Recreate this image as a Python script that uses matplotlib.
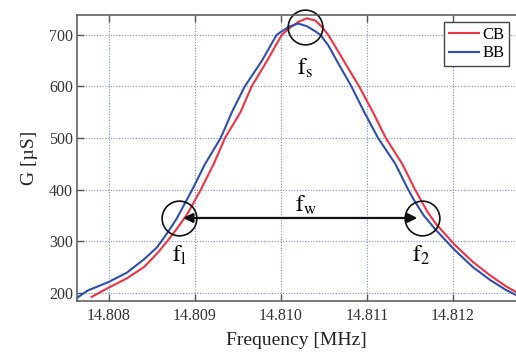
import matplotlib
matplotlib.use("Agg")
import matplotlib.pyplot as plt
from matplotlib.ticker import FormatStrFormatter

plt.rcParams['font.family'] = ['Liberation Serif', 'DejaVu Serif']
plt.rcParams['mathtext.fontset'] = 'stix'

# values (frequency in MHz, G in uS)
bb_freq = [14.80763, 14.80775, 14.80800, 14.80821, 14.80841, 14.80856, 14.80868,
           14.80879, 14.80897, 14.80912, 14.80930, 14.80943, 14.80958, 14.80978,
           14.80995, 14.81002, 14.81010, 14.81020, 14.81030, 14.81040, 14.81046,
           14.81055, 14.81065, 14.81082, 14.81097, 14.81113, 14.81133, 14.81148,
           14.81155, 14.81166, 14.81180, 14.81202, 14.81223, 14.81243, 14.81262,
           14.81273]
bb_g = [190, 204, 221, 239, 265, 288, 316,
        344, 400, 450, 500, 550, 600, 650,
        700, 708, 716, 722, 717, 707, 700,
        680, 650, 600, 550, 500, 450, 400,
        379, 350, 322, 283, 250, 225, 205,
        196]

cb_freq = [14.80780, 14.80800, 14.80821, 14.80841, 14.80856, 14.80868, 14.80879,
           14.80891, 14.80907, 14.80922, 14.80935, 14.80953, 14.80966, 14.80984,
           14.81001, 14.81010, 14.81020, 14.81030, 14.81040, 14.81048, 14.81055,
           14.81063, 14.81073, 14.81091, 14.81107, 14.81122, 14.81141, 14.81156,
           14.81163, 14.81170, 14.81180, 14.81202, 14.81223, 14.81243, 14.81262,
           14.81273]
cb_g = [192, 210, 228, 250, 276, 300, 324,
        352, 400, 450, 500, 550, 600, 650,
        700, 713, 725, 732, 728, 715, 700,
        678, 650, 600, 550, 500, 450, 400,
        379, 358, 334, 293, 260, 234, 212,
        202]

x_ticks = [14.808, 14.809, 14.810, 14.811, 14.812]
y_ticks = [200, 300, 400, 500, 600, 700]

# marked points: f1, fs, f2 and the width arrow
f1 = (14.808821, 345)
f2 = (14.811635, 345)
fs = (14.810279, 716)

fig = plt.figure(figsize=(5.16, 3.54), dpi=100)
ax = fig.add_axes([0.1492, 0.1497, 0.8508, 0.8071])

ax.plot(cb_freq, cb_g, color='#ee3344', lw=1.5, label='CB')
ax.plot(bb_freq, bb_g, color='#2f4fb0', lw=1.5, label='BB')

ax.set_xlim(14.80763, 14.812733)
ax.set_ylim(184, 738)
ax.set_xticks(x_ticks)
ax.set_yticks(y_ticks)
ax.xaxis.set_major_formatter(FormatStrFormatter('%.3f'))
ax.grid(True, color='#7f8fd0', lw=0.8, linestyle=(0, (1, 1.5)))
ax.tick_params(direction='in', top=True, right=False, length=5, width=1,
               color='#555555', labelsize=11.5, labelcolor='#333333')
ax.tick_params(axis='y', pad=3)
ax.tick_params(axis='x', pad=5)
for side in ['left', 'top', 'bottom']:
    ax.spines[side].set_color('#555555')
    ax.spines[side].set_linewidth(1.1)
ax.spines['right'].set_visible(False)

ax.set_xlabel('Frequency [MHz]', fontsize=14, color='#222222', labelpad=6)
ax.set_ylabel('G [µS]', fontsize=14, color='#222222', labelpad=8)

# circles around the marked points
for px, py in [f1, f2, fs]:
    ax.plot(px, py, 'o', ms=25, mfc='none', mec='#111111', mew=1.2, clip_on=False)

ax.annotate('', xy=(14.808864, 345), xytext=(14.811586, 345),
            arrowprops=dict(arrowstyle='<|-|>', color='#111111', lw=1.6,
                            mutation_scale=14, shrinkA=0, shrinkB=0))

ax.text(fs[0], 636, r'$\mathrm{f_s}$', fontsize=17, ha='center', va='center')
ax.text(14.81029, 370, r'$\mathrm{f_w}$', fontsize=17, ha='center', va='center')
ax.text(f1[0], 273, r'$\mathrm{f_l}$', fontsize=17, ha='center', va='center')
ax.text(f2[0], 273, r'$\mathrm{f_2}$', fontsize=17, ha='center', va='center')

leg = ax.legend(loc='upper right', fontsize=12, handlelength=1.8, handletextpad=0.2,
                borderpad=0.3, labelspacing=0.15, fancybox=False, framealpha=1,
                edgecolor='#444444', borderaxespad=0.4)
leg.get_frame().set_linewidth(1.0)

fig.savefig('out.png', dpi=100)
